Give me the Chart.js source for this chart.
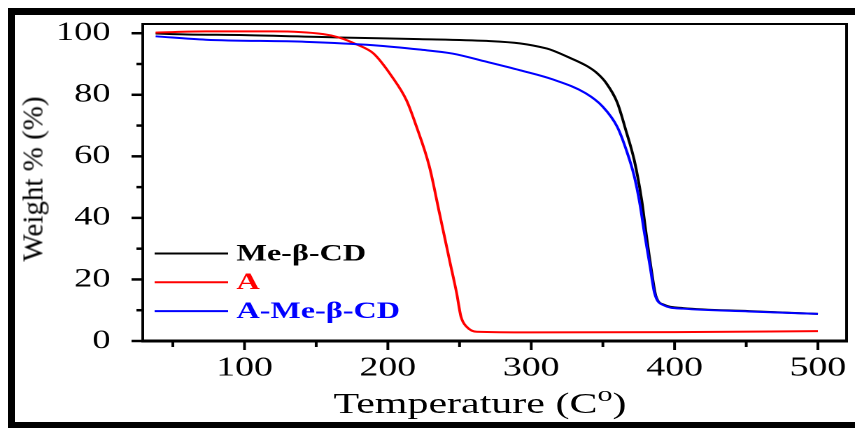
<!DOCTYPE html>
<html>
<head>
<meta charset="utf-8">
<script src="https://cdn.jsdelivr.net/npm/chart.js@4.4.1/dist/chart.umd.min.js"></script>
<style>
  html, body { margin: 0; padding: 0; background: #fff; overflow: hidden; width: 855px; height: 428px; }
  #frame { position: absolute; left: 8px; top: 8px; width: 900px; height: 407px; border: 7px solid #000; }
  #wrap { position: absolute; left: 0; top: 0; width: 611px; height: 428px; transform: scaleX(1.3993); transform-origin: 0 0; }
  #yTitle { position: absolute; left: 33px; top: 179px; transform: translate(-50%, -50%) rotate(-90deg);
            font: 29px "Liberation Serif", "Times New Roman", serif; white-space: nowrap; color: #000; }
  #xTitle { position: absolute; left: 480px; top: 388px; transform: translateX(-50%) scaleX(1.3993);
            font: 30px/30px "Liberation Serif", "Times New Roman", serif; white-space: nowrap; color: #000; }
  #xTitle span { font-size: 0.72em; vertical-align: 0.55em; line-height: 0; }
</style>
</head>
<body>
<div id="frame"></div>
<div id="wrap"><canvas id="tgaChart" width="611" height="428"></canvas></div>
<div id="yTitle">Weight % (%)</div>
<div id="xTitle">Temperature (C<span>o</span>)</div>
<script>
// readings (temperature in C, weight in %)
const tempMe   = [38, 60, 100, 166, 222, 269, 292, 311, 315, 327, 339, 346, 352, 360, 366, 372, 377, 380, 384, 387, 393, 406, 452, 500];
const weightMe = [99.9, 99.6, 99.4, 98.6, 98.1, 97.5, 96.7, 95.0, 94.4, 92.0, 89.3, 87.0, 84.0, 77.5, 68.5, 58.5, 46.0, 35.5, 22.5, 14.6, 11.7, 10.7, 9.7, 8.8];

const tempA   = [38, 73, 120, 155, 166, 178, 190, 203, 213, 220, 229, 236, 243, 248, 251, 255, 262, 300, 400, 500];
const weightA = [100.2, 100.6, 100.6, 99.7, 98.6, 96.4, 93.4, 85.8, 78.2, 69.6, 56.6, 41.5, 26.3, 15.5, 7.9, 4.6, 3.0, 2.8, 2.9, 3.2];

const tempAMe   = [38, 73, 143, 190, 222, 245, 269, 292, 315, 338, 350, 360, 366, 372, 376, 379, 383, 386, 392, 406, 452, 500];
const weightAMe = [99.0, 97.9, 97.2, 96.1, 94.7, 93.4, 90.7, 88.0, 85.0, 80.5, 76.1, 69.6, 62.5, 53.3, 44.0, 35.0, 24.0, 15.6, 11.7, 10.5, 9.6, 8.8];

const seriesNames  = ['Me-\u03B2-CD', 'A', 'A-Me-\u03B2-CD'];
const seriesColors = ['#000000', '#ff0000', '#0000ff'];

const xTickLabels = [100, 200, 300, 400, 500];
const yTickLabels = [0, 20, 40, 60, 80, 100];

function toPoints(xs, ys) {
    return xs.map((x, i) => ({ x: x, y: ys[i] }));
}

// frame box, major/minor ticks and the inset legend
const decorPlugin = {
    id: 'decor',
    afterDatasetsDraw(chart) {
        const { ctx, chartArea: a, scales } = chart;
        ctx.save();
        ctx.strokeStyle = '#000';
        ctx.lineWidth = 2;
        ctx.strokeRect(a.left, a.top, a.right - a.left, a.bottom - a.top);
        ctx.lineWidth = 3;
        ctx.beginPath();
        ctx.moveTo(a.left - 1, a.bottom);
        ctx.lineTo(a.right + 1, a.bottom);
        ctx.stroke();

        ctx.lineWidth = 2.5;
        for (let v = 0; v <= 100; v += 10) {
            const py = scales.y.getPixelForValue(v);
            const len = yTickLabels.includes(v) ? 8 : 4.5;
            ctx.beginPath();
            ctx.moveTo(a.left - len, py);
            ctx.lineTo(a.left, py);
            ctx.stroke();
        }
        ctx.lineWidth = 2;
        for (let v = 50; v <= 500; v += 50) {
            const px = scales.x.getPixelForValue(v);
            const len = xTickLabels.includes(v) ? 9 : 6;
            ctx.beginPath();
            ctx.moveTo(px, a.bottom);
            ctx.lineTo(px, a.bottom + len);
            ctx.stroke();
        }
        ctx.restore();
    },
    afterDraw(chart) {
        const { ctx, chartArea: a } = chart;
        ctx.save();
        ctx.font = 'bold 23px "Liberation Serif", "Times New Roman", serif';
        ctx.textBaseline = 'middle';
        chart.data.datasets.forEach((ds, i) => {
            const yy = a.bottom - 87.5 + i * 28.8;
            ctx.strokeStyle = ds.borderColor;
            ctx.lineWidth = 2;
            ctx.beginPath();
            ctx.moveTo(a.left + 8.5, yy);
            ctx.lineTo(a.left + 61, yy);
            ctx.stroke();
            ctx.fillStyle = ds.borderColor;
            ctx.fillText(ds.label, a.left + 67, yy + 1);
        });
        ctx.restore();
    }
};

const ctx = document.getElementById('tgaChart').getContext('2d');
const tgaChart = new Chart(ctx, {
    type: 'line',
    data: {
        datasets: [
            { label: seriesNames[0], data: toPoints(tempMe, weightMe), borderColor: seriesColors[0], order: 2 },
            { label: seriesNames[1], data: toPoints(tempA, weightA), borderColor: seriesColors[1], order: 1 },
            { label: seriesNames[2], data: toPoints(tempAMe, weightAMe), borderColor: seriesColors[2], order: 0 }
        ]
    },
    options: {
        responsive: false,
        devicePixelRatio: 2,
        animation: false,
        layout: { padding: { top: 24, right: 6, left: 0, bottom: 0 } },
        elements: {
            line: { borderWidth: 2, fill: false, cubicInterpolationMode: 'monotone' },
            point: { radius: 0, hoverRadius: 0 }
        },
        scales: {
            x: {
                type: 'linear',
                min: 29,
                max: 520,
                grid: { display: false },
                border: { display: false },
                afterFit: function(scale) {
                    scale.height = 87;
                    scale.paddingLeft = 0;
                    scale.paddingRight = 0;
                },
                ticks: {
                    stepSize: 50,
                    includeBounds: false,
                    autoSkip: false,
                    maxRotation: 0,
                    padding: 3,
                    color: '#000',
                    font: { family: '"Liberation Serif", "Times New Roman", serif', size: 27 },
                    callback: function(value) { return xTickLabels.includes(value) ? value : ''; }
                }
            },
            y: {
                min: 0,
                max: 103,
                grid: { display: false },
                border: { display: false },
                afterFit: function(scale) {
                    scale.width = 102;
                    scale.paddingTop = 0;
                    scale.paddingBottom = 0;
                },
                ticks: {
                    stepSize: 10,
                    includeBounds: false,
                    autoSkip: false,
                    padding: 15,
                    color: '#000',
                    font: { family: '"Liberation Serif", "Times New Roman", serif', size: 26 },
                    callback: function(value) { return yTickLabels.includes(value) ? value : ''; }
                }
            }
        },
        plugins: {
            legend: { display: false },
            tooltip: { enabled: false }
        }
    },
    plugins: [decorPlugin]
});
</script>
</body>
</html>
